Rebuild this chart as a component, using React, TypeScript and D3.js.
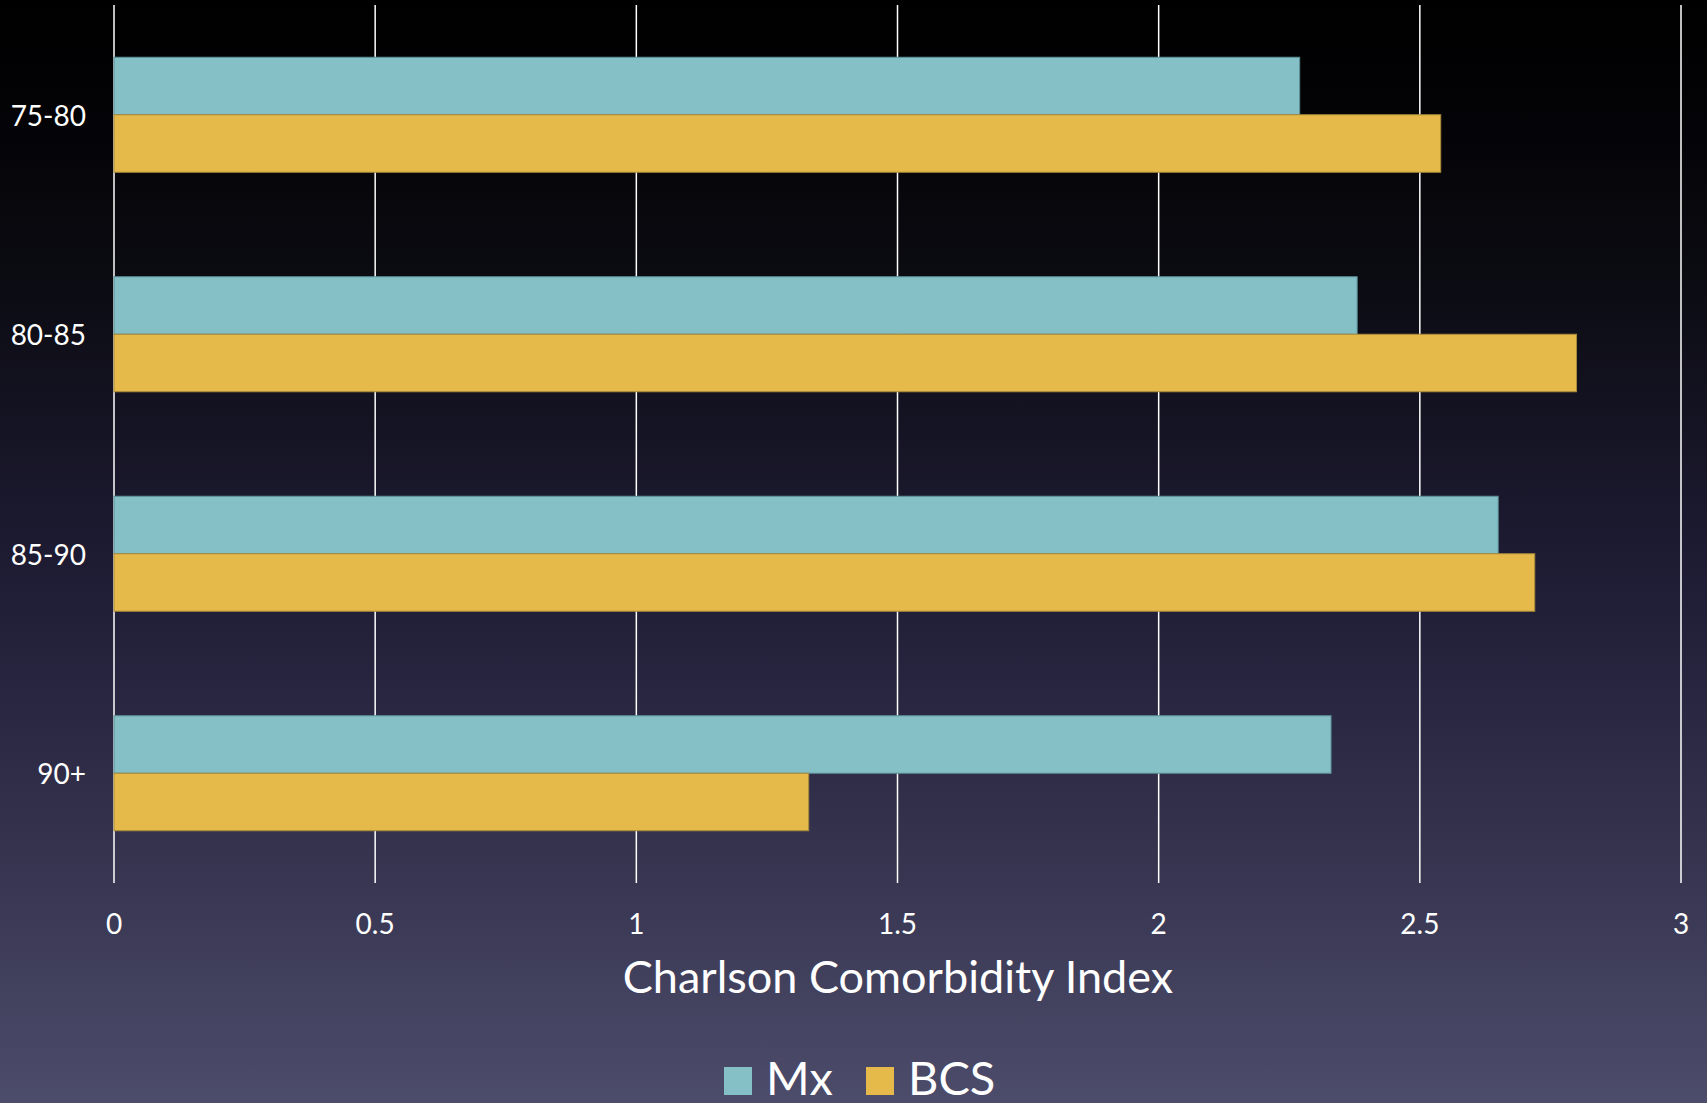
import React from "react";
import * as d3 from "d3";

const categories = ["75-80", "80-85", "85-90", "90+"];
const seriesNames = ["Mx", "BCS"];
const mxValues = [2.27, 2.38, 2.65, 2.33];
const bcsValues = [2.54, 2.8, 2.72, 1.33];
const xTicks = [0, 0.5, 1, 1.5, 2, 2.5, 3];
const xTickLabels = ["0", "0.5", "1", "1.5", "2", "2.5", "3"];
const axisTitle = "Charlson Comorbidity Index";

const W = 1707;
const H = 1103;
const FONT = "Lato, 'Open Sans', sans-serif";

export default function App() {
  const x = d3.scaleLinear().domain([0, 3]).range([114, 1681]);
  const y = d3
    .scaleBand<string>()
    .domain(categories)
    .range([5, 883])
    .paddingInner(0.476)
    .paddingOuter(0.238);
  const sub = d3.scaleBand<string>().domain(seriesNames).range([0, y.bandwidth()]);
  const colors = ["#84c0c6", "#e6b94b"];
  const strokes = ["#5b8f96", "#a88a3a"];
  const series = [mxValues, bcsValues];

  return (
    <svg
      width={W}
      height={H}
      style={{ position: "absolute", left: 0, top: 0, display: "block" }}
      fontFamily={FONT}
    >
      <defs>
        <linearGradient id="bg" x1="0" y1="0" x2="0" y2="1">
          <stop offset="0" stopColor="#000000" />
          <stop offset="0.1" stopColor="#030306" />
          <stop offset="0.25" stopColor="#0b0b12" />
          <stop offset="0.55" stopColor="#211e38" />
          <stop offset="0.78" stopColor="#36344f" />
          <stop offset="1" stopColor="#4c4c6b" />
        </linearGradient>
      </defs>
      <rect x={0} y={0} width={W} height={H} fill="url(#bg)" />
      {xTicks.map((t) => (
        <line
          key={"g" + t}
          x1={x(t)}
          x2={x(t)}
          y1={5}
          y2={883}
          stroke="#ffffff"
          strokeWidth={1.5}
        />
      ))}
      {categories.map((c, i) => (
        <g key={c}>
          {series.map((vals, s) => (
            <rect
              key={s}
              x={x(0)}
              y={(y(c) as number) + (sub(seriesNames[s]) as number)}
              width={x(vals[i]) - x(0)}
              height={sub.bandwidth()}
              fill={colors[s]}
              stroke={strokes[s]}
              strokeWidth={1}
            />
          ))}
          <text
            x={86}
            y={(y(c) as number) + y.bandwidth() / 2}
            textAnchor="end"
            dominantBaseline="central"
            fill="#ffffff"
            fontSize={28}
          >
            {c}
          </text>
        </g>
      ))}
      {xTicks.map((t, i) => (
        <text
          key={"t" + t}
          x={x(t)}
          y={923}
          textAnchor="middle"
          dominantBaseline="central"
          fill="#ffffff"
          fontSize={28}
        >
          {xTickLabels[i]}
        </text>
      ))}
      <text
        x={898}
        y={993}
        textAnchor="middle"
        fill="#ffffff"
        fontSize={45}
      >
        {axisTitle}
      </text>
      <g>
        <rect x={724} y={1067} width={28} height={28} fill={colors[0]} />
        <text x={766} y={1095} fill="#ffffff" fontSize={47}>
          {seriesNames[0]}
        </text>
        <rect x={866} y={1067} width={28} height={28} fill={colors[1]} />
        <text x={908} y={1095} fill="#ffffff" fontSize={47}>
          {seriesNames[1]}
        </text>
      </g>
    </svg>
  );
}
